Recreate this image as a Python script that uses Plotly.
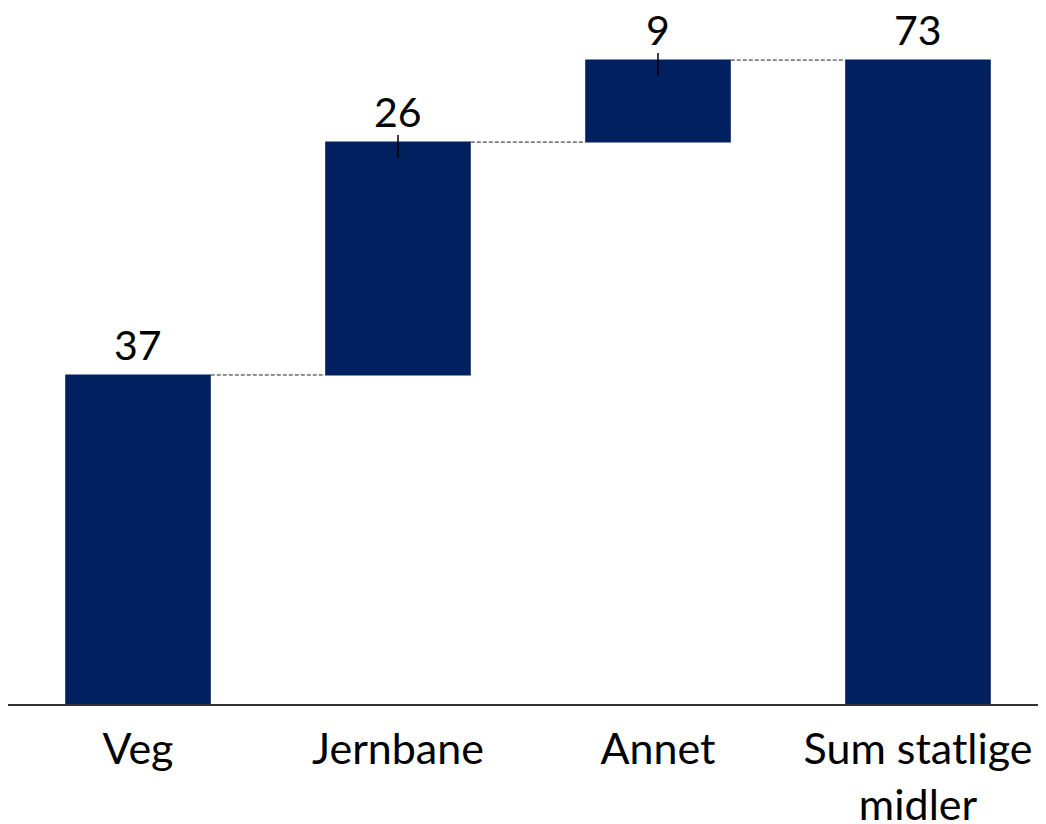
import plotly.graph_objects as go

categories = ["Veg", "Jernbane", "Annet", "Sum statlige<br>midler"]
values = [37.3, 26.4, 9.3, 0]
measures = ["absolute", "relative", "relative", "total"]
labels = ["37", "26", "9", "73"]

navy = "#002060"
font_family = "Lato"

fig = go.Figure(go.Waterfall(
    x=categories,
    y=values,
    measure=measures,
    width=0.56,
    increasing=dict(marker=dict(color=navy)),
    decreasing=dict(marker=dict(color=navy)),
    totals=dict(marker=dict(color=navy)),
    connector=dict(line=dict(color="#222222", width=1, dash="4px,2px")),
    hoverinfo="skip",
))

# top of each bar, for labels and the small leader ticks
tops = []
run = 0
for v, m in zip(values, measures):
    if m != "total":
        run += v
    tops.append(run)

for i, (cat, top, lab) in enumerate(zip(categories, tops, labels)):
    fig.add_annotation(
        x=cat, y=top, text=lab, showarrow=False,
        yanchor="bottom", yshift=5, borderpad=0,
        font=dict(family=font_family, size=41, color="black"),
    )
    if measures[i] == "relative":
        fig.add_shape(
            type="line", xref="x", yref="y",
            x0=cat, x1=cat, y0=top - 1.8, y1=top + 0.8,
            line=dict(color="black", width=1.5),
        )

# the page body adds an 8px offset, so the figure is sized to fit inside it
fig.update_layout(
    width=1040, height=816,
    margin=dict(l=0, r=0, t=0, b=120),
    plot_bgcolor="white", paper_bgcolor="white",
    showlegend=False,
    font=dict(family=font_family, size=43, color="black"),
    xaxis=dict(
        showline=True, linecolor="#333333", linewidth=2,
        ticks="", showgrid=False, range=[-0.5, 3.5],
        automargin=False, ticklabelstandoff=6,
        tickfont=dict(family=font_family, size=43, color="black"),
    ),
    yaxis=dict(
        visible=False, range=[0, 78.9], showgrid=False, zeroline=False,
        automargin=False,
    ),
)

fig.write_html("out.html")
